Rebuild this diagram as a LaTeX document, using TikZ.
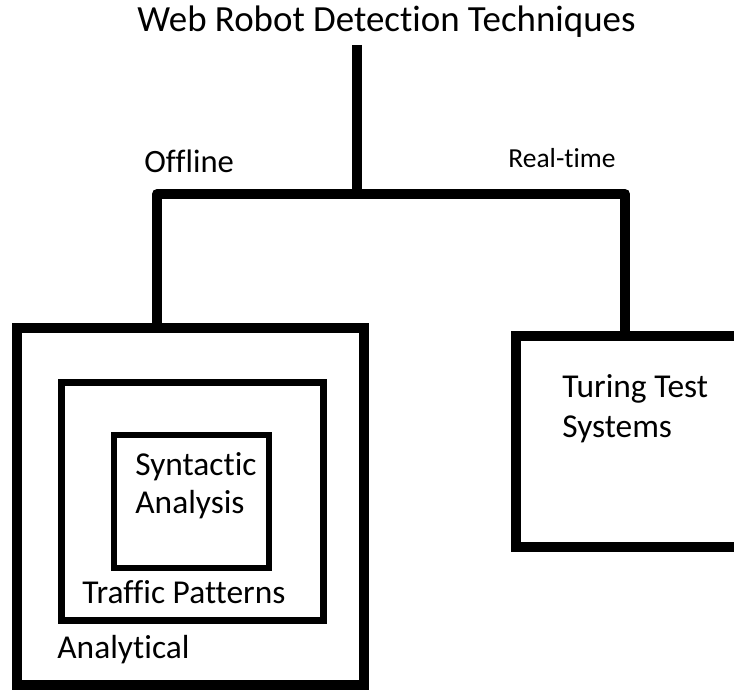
\documentclass[tikz,border=0pt]{standalone}
\usepackage{fontspec}
\setmainfont{Carlito}[Ligatures=NoCommon]
\begin{document}
\begin{tikzpicture}[x=0.5pt,y=-0.5pt,
  box/.style={draw=black,rectangle,inner sep=0pt,outer sep=0pt},
  conn/.style={draw=black,line width=5pt,line join=round},
  lbl/.style={anchor=base west,inner sep=0pt,font=\fontsize{16.7}{19}\selectfont}]
  % page frame
  \useasboundingbox (0,0) rectangle (734,690);
  \clip (0,0) rectangle (734,690);
  \fill[white] (0,0) rectangle (734,690);

  % title and branch labels
  \node[lbl,font=\fontsize{18.45}{22}\selectfont] (title) at (137,32) {Web Robot Detection Techniques};
  \node[lbl,font=\fontsize{16.3}{19}\selectfont] (offline) at (144,173) {Offline};
  \node[lbl,font=\fontsize{13.75}{16}\selectfont] (realtime) at (508,168) {Real-time};

  % nested boxes of the offline branch
  \node[box,line width=5pt,minimum width=173.5pt,minimum height=178.5pt] (outer) at (190.5,506.5) {};
  \node[box,line width=3.5pt,minimum width=131pt,minimum height=119pt] (middle) at (192,501) {};
  \node[box,line width=3.25pt,minimum width=77.5pt,minimum height=66.5pt] (inner) at (191.5,501.5) {};

  % real-time branch box
  \node[box,line width=5pt,minimum width=127pt,minimum height=105.5pt] (rbox) at (643,441.5) {};

  % box texts
  \node[lbl] (syn1) at (135,475) {Syntactic};
  \node[lbl] (syn2) at (135,513) {Analysis};
  \node[lbl] (traffic) at (82,603) {Traffic Patterns};
  \node[lbl] (analytical) at (57,658) {Analytical};
  \node[lbl] (turing1) at (562,397) {Turing Test};
  \node[lbl] (turing2) at (562,437) {Systems};

  % tree connectors
  \coordinate (stem) at (357,45);
  \coordinate (fork) at (357,194);
  \coordinate (lfork) at (157,194);
  \coordinate (rfork) at (625,194);
  \draw[conn] (stem) -- (fork);
  \draw[conn] (outer.north -| lfork) -- (lfork) -- (rfork) -- (rbox.north -| rfork);
\end{tikzpicture}
\end{document}
